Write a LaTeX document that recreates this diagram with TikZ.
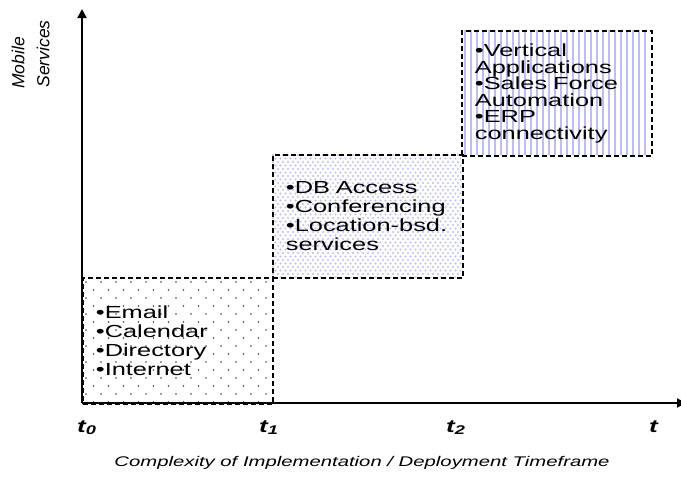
\documentclass[tikz,border=0pt]{standalone}
\usepackage{fontspec}
\setmainfont{Liberation Sans}
\newfontfamily\widefont[FakeStretch=1.45]{Liberation Sans}
\usetikzlibrary{arrows.meta}
\definecolor{lavender}{RGB}{188,188,246}

\begin{document}
\begin{tikzpicture}[x=1pt,y=-1pt]

        \useasboundingbox (0,0) rectangle (681,479);

        \coordinate (o)    at (82,403);
        \coordinate (ytop) at (82,9);
        \coordinate (xend) at (686,403);

        % fill patterns of the three stages
        \begin{scope}
          \clip (82,277) rectangle (272,403);
          \foreach \x in {82,97,...,272}
            \foreach \y in {282,298,...,403} {
              \fill[black!75] (\x+4,\y) circle (0.8pt);
              \fill[black!75] (\x+11.5,\y+8) circle (0.8pt);
            }
        \end{scope}
        \begin{scope}
          \clip (272,154) rectangle (461,277);
          \foreach \x in {272,277,...,461}
            \foreach \y in {155,162,...,277} {
              \fill[lavender] (\x+1,\y) circle (1.2pt);
              \fill[lavender] (\x+3.5,\y+3.5) circle (1.2pt);
            }
        \end{scope}
        \begin{scope}
          \clip (461,30) rectangle (650,155);
          \foreach \x in {465,471,...,650}
            \fill[lavender] (\x-1,30) rectangle (\x+1,155);
        \end{scope}

        \begin{scope}[every node/.style={draw, dash pattern=on 5pt off 3pt, line width=1.8pt,
            anchor=north west, minimum width=190pt, inner xsep=13pt, text width=164pt,
            align=left, font=\widefont\fontsize{17.5}{19}\selectfont}]
          \node[minimum height=126pt] (1) at (82,277)
            {•Email\\•Calendar\\•Directory\\•Internet};
          \node[minimum height=123pt] (2) at (272,154)
            {•DB Access\\•Conferencing\\•Location-bsd.\\services};
          \node[minimum width=189pt, minimum height=125pt,
            font=\widefont\fontsize{17.5}{16.6}\selectfont] (3) at (461,30)
            {•Vertical\\Applications\\•Sales Force\\Automation\\•ERP\\connectivity};
        \end{scope}

        \begin{scope}[every node/.style={anchor=base west, inner sep=0pt,
            font=\widefont\bfseries\itshape\fontsize{18}{18}\selectfont}]
          \node (t0) at (77,432)  {t\textsubscript{0}};
          \node (t1) at (259,432) {t\textsubscript{1}};
          \node (t2) at (446,432) {t\textsubscript{2}};
          \node (t)  at (649,432) {t};
        \end{scope}

        \node[anchor=base, inner sep=0pt, font=\widefont\itshape\fontsize{14}{14}\selectfont]
          (xlabel) at (362,466) {Complexity of Implementation / Deployment Timeframe};

        \begin{scope}[every node/.style={rotate=90, inner sep=0pt,
            font=\itshape\fontsize{17.5}{17.5}\selectfont}]
          \node (mob) at (18,63) {Mobile};
          \node (ser) at (43,54) {Services};
        \end{scope}

        \draw[line width=2pt, -{Triangle[length=9pt,width=9pt]}] (o) -- (ytop);
        \draw[line width=2pt, -{Triangle[length=9pt,width=9pt]}] (o) -- (xend);

      \end{tikzpicture}
\end{document}
